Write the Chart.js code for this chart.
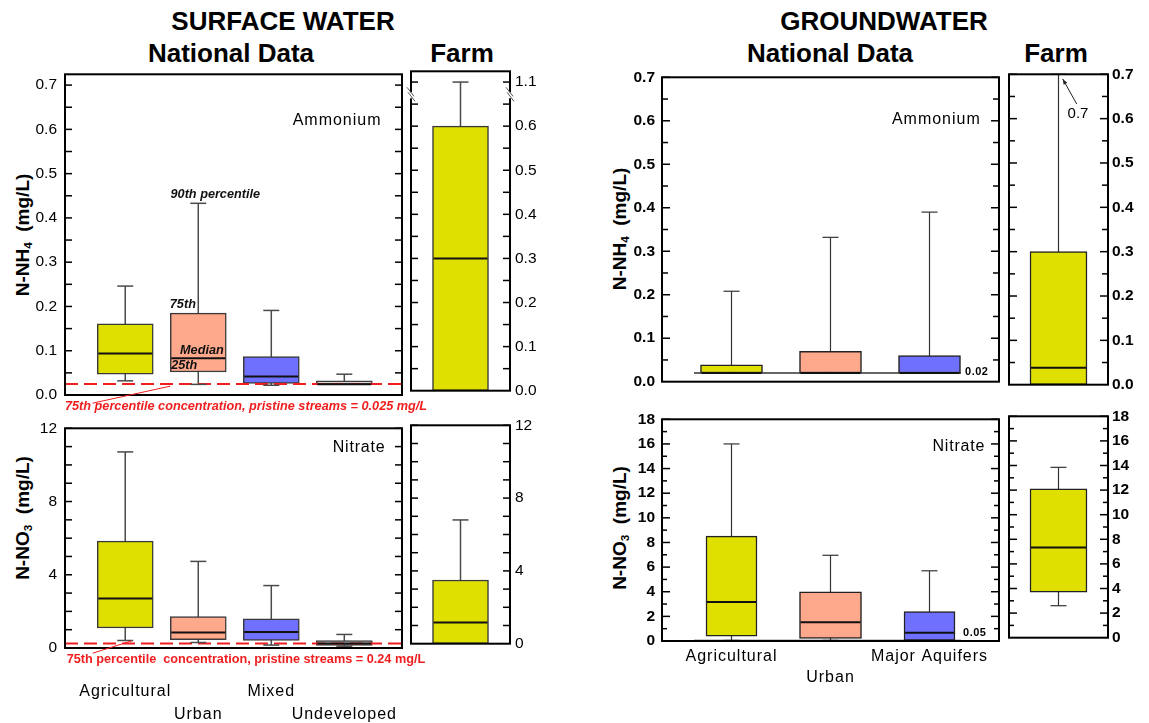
<!DOCTYPE html>
<html>
<head>
<meta charset="utf-8">
<script src="https://cdn.jsdelivr.net/npm/chart.js@4.4.1/dist/chart.umd.min.js"></script>
<style>
  body { margin: 0; background: #fff; font-family: "Liberation Sans", Arial, sans-serif; }
  #page { position: relative; width: 1149px; height: 723px; overflow: hidden; }
  .box { position: absolute; }
  .head { position: absolute; font-weight: bold; font-size: 26px; line-height: 1; white-space: nowrap; transform: translate(-50%, -50%); }
  .ytitle { position: absolute; font-weight: bold; font-size: 19px; line-height: 1; white-space: nowrap; transform: translate(-50%, -50%) rotate(-90deg); }
  .ytitle sub { font-size: 0.62em; vertical-align: -0.3em; line-height: 0; }
</style>
</head>
<body>
<div id="page">
  <div class="head" style="left:283px;top:21px">SURFACE WATER</div>
  <div class="head" style="left:231px;top:53px">National Data</div>
  <div class="head" style="left:462px;top:53px">Farm</div>
  <div class="head" style="left:884px;top:21px">GROUNDWATER</div>
  <div class="head" style="left:830px;top:53px">National Data</div>
  <div class="head" style="left:1056px;top:53px">Farm</div>

  <div class="ytitle" style="left:22px;top:235px">N-NH<sub>4</sub>&nbsp;&nbsp;(mg/L)</div>
  <div class="ytitle" style="left:22px;top:518px">N-NO<sub>3</sub>&nbsp;&nbsp;(mg/L)</div>
  <div class="ytitle" style="left:619px;top:229px">N-NH<sub>4</sub>&nbsp;&nbsp;(mg/L)</div>
  <div class="ytitle" style="left:619px;top:528px">N-NO<sub>3</sub>&nbsp;&nbsp;(mg/L)</div>
</div>
<script>
Chart.defaults.font.family = '"Liberation Sans", Arial, sans-serif';
Chart.defaults.color = '#000';

// land-use categories
const swCategories = ['Agricultural', 'Urban', 'Mixed', 'Undeveloped'];
const gwCategories = ['Agricultural', 'Urban', 'Major Aquifers'];

// box values in mg/L, each row: [10th, 25th, median, 75th, 90th percentile]
const swAmmonium = [
  [0.032, 0.047, 0.094, 0.161, 0.246],
  [0.024, 0.052, 0.083, 0.185, 0.433],
  [0.022, 0.026, 0.042, 0.087, 0.191],
  [0.024, 0.024, 0.024, 0.032, 0.047]
];
const swAmmoniumFarm = [[0, 0, 0.3, 0.6, 1.1]];
const swNitrate = [
  [0.41, 1.09, 2.71, 5.84, 10.71],
  [0.30, 0.46, 0.84, 1.71, 4.73],
  [0.16, 0.41, 0.88, 1.59, 3.41],
  [0.10, 0.14, 0.25, 0.40, 0.74]
];
const swNitrateFarm = [[0, 0, 1.16, 3.5, 6.8]];
const gwAmmonium = [
  [0.02, 0.02, 0.02, 0.039, 0.208],
  [0.02, 0.02, 0.02, 0.070, 0.332],
  [0.02, 0.02, 0.02, 0.060, 0.390]
];
const gwAmmoniumFarm = [[0, 0, 0.038, 0.3, 0.7]];
const gwNitrate = [
  [0.05, 0.40, 3.17, 8.52, 16.0],
  [0.05, 0.20, 1.53, 3.99, 6.96],
  [0.05, 0.05, 0.66, 2.38, 5.70]
];
const gwNitrateFarm = [[2.6, 3.71, 7.34, 12.1, 13.85]];

// 75th percentile in pristine streams, and groundwater reporting limits
const swAmmoniumPristine = 0.025;
const swNitratePristine = 0.24;
const gwAmmoniumLimit = 0.02;
const gwNitrateLimit = 0.05;

// tick values and labels
const ammoniumTicks = [0, 0.1, 0.2, 0.3, 0.4, 0.5, 0.6, 0.7];
const swFarmAmmoniumLabels = ['0.0', '0.1', '0.2', '0.3', '0.4', '0.5', '0.6', '1.1'];
const swNitrateTicks = [0, 4, 8, 12];
const gwNitrateTicks = [0, 2, 4, 6, 8, 10, 12, 14, 16, 18];

const landColors = ['#e0e000', '#ffa98c', '#7070ff', '#d6d6d6'];
const RED = '#f01e1e';

function drawText(ctx, t, px, py) {
  ctx.save();
  ctx.font = t.font;
  ctx.fillStyle = t.color || '#000';
  ctx.textAlign = t.align || 'left';
  ctx.textBaseline = 'middle';
  if ('letterSpacing' in ctx) ctx.letterSpacing = (t.spacing || 0) + 'px';
  ctx.fillText(t.text, px, py);
  ctx.restore();
}

function line(ctx, x1, y1, x2, y2) {
  ctx.beginPath();
  ctx.moveTo(x1, y1);
  ctx.lineTo(x2, y2);
  ctx.stroke();
}

// whiskers, caps, medians, frame, inward ticks and notes
function makeBoxPlot(o) {
  const py = (y, v) => y.getPixelForValue(o.clamp != null ? Math.min(v, o.clamp) : v);
  return {
    id: 'boxPlot',
    beforeDatasetsDraw(chart) {
      const {ctx, scales: {x, y}} = chart;
      ctx.save();
      ctx.strokeStyle = o.whiskerColor;
      ctx.lineWidth = o.whiskerWidth;
      o.stats.forEach((s, i) => {
        const px = x.getPixelForValue(o.xs[i]);
        line(ctx, px, py(y, s[0]), px, py(y, s[4]));
      });
      ctx.restore();
    },
    afterDatasetsDraw(chart) {
      const {ctx, scales: {x, y}} = chart;
      ctx.save();
      o.stats.forEach((s, i) => {
        const px = x.getPixelForValue(o.xs[i]);
        ctx.strokeStyle = o.whiskerColor;
        ctx.lineWidth = o.whiskerWidth;
        if (s[0] < s[1]) line(ctx, px - 8, py(y, s[0]), px + 8, py(y, s[0]));
        if (s[4] > s[3]) line(ctx, px - 8, py(y, s[4]), px + 8, py(y, s[4]));
        const half = o.widths[i] / 2 - 1;
        ctx.strokeStyle = '#111';
        ctx.lineWidth = o.medianWidth;
        line(ctx, px - half, py(y, s[2]), px + half, py(y, s[2]));
      });
      ctx.restore();
    },
    afterDraw(chart) {
      const {ctx, chartArea: {left, right, top, bottom}, scales: {x, y}} = chart;
      ctx.save();
      ctx.strokeStyle = '#000';
      ctx.lineWidth = 1.5;
      const n = Math.round(o.tickTop / o.minorStep);
      for (let k = 1; k <= n; k++) {
        const yy = y.getPixelForValue(k * o.minorStep);
        const len = k % o.majorEvery === 0 ? o.majorLen : o.minorLen;
        line(ctx, left, yy, left + len, yy);
        line(ctx, right - len, yy, right, yy);
      }
      ctx.lineWidth = 2;
      ctx.strokeRect(left, top, right - left, bottom - top);
      if (o.breakAt != null) {
        const yb = y.getPixelForValue(o.breakAt);
        [left, right].forEach(xe => {
          ctx.fillStyle = '#fff';
          ctx.fillRect(xe - 2, yb - 3, 4, 6);
          ctx.strokeStyle = '#555';
          ctx.lineWidth = 1;
          line(ctx, xe - 4, yb - 8, xe + 3, yb + 1);
          line(ctx, xe - 3, yb - 3, xe + 4, yb + 6);
        });
      }
      (o.leaders || []).forEach(l => {
        const x1 = x.getPixelForValue(l.x1), y1 = y.getPixelForValue(l.y1);
        const x2 = x.getPixelForValue(l.x2), y2 = y.getPixelForValue(l.y2);
        ctx.strokeStyle = l.color;
        ctx.fillStyle = l.color;
        ctx.lineWidth = 1;
        line(ctx, x1, y1, x2, y2);
        if (l.arrow) {
          const a = Math.atan2(y2 - y1, x2 - x1);
          ctx.beginPath();
          ctx.moveTo(x2, y2);
          ctx.lineTo(x2 - 6 * Math.cos(a - 0.35), y2 - 6 * Math.sin(a - 0.35));
          ctx.lineTo(x2 - 6 * Math.cos(a + 0.35), y2 - 6 * Math.sin(a + 0.35));
          ctx.closePath();
          ctx.fill();
        }
      });
      ctx.restore();
      (o.notes || []).forEach(t => drawText(ctx, t, x.getPixelForValue(t.x), y.getPixelForValue(t.y)));
      if (o.categories) {
        o.categories.forEach((c, i) => drawText(ctx, {
          text: c, font: '16px "Liberation Sans", Arial, sans-serif', align: 'center', spacing: 1
        }, x.getPixelForValue(o.xs[i]), bottom + o.catRows[i % 2]));
      }
    }
  };
}

function boxPanel(o) {
  const padT = 12;
  const wrap = document.createElement('div');
  wrap.className = 'box';
  Object.assign(wrap.style, {
    left: (o.area.l - o.padL) + 'px',
    top: (o.area.t - padT) + 'px',
    width: (o.area.r - o.area.l + o.padL + o.padR) + 'px',
    height: (o.area.b - o.area.t + padT + o.padB) + 'px'
  });
  const cv = document.createElement('canvas');
  wrap.appendChild(cv);
  document.getElementById('page').appendChild(wrap);

  const onRight = o.axis === 'right';
  const datasets = o.stats.map((s, i) => ({
    type: 'bar',
    data: [{x: o.xs[i], y: [s[1], s[3]]}],
    backgroundColor: o.colors[i],
    borderColor: o.boxBorder,
    borderWidth: 1.5,
    borderSkipped: false,
    barThickness: o.widths[i],
    grouped: false,
    order: 2
  }));
  (o.refLines || []).forEach(r => datasets.push({
    type: 'line',
    data: [{x: r.from, y: r.value}, {x: r.to, y: r.value}],
    borderColor: r.color,
    borderWidth: r.width,
    borderDash: r.dash || [],
    pointRadius: 0,
    order: 1
  }));

  new Chart(cv, {
    type: 'bar',
    data: {datasets},
    options: {
      responsive: true,
      maintainAspectRatio: false,
      animation: false,
      layout: {padding: {top: padT, bottom: o.padB, left: onRight ? o.padL : 0, right: onRight ? 0 : o.padR}},
      scales: {
        x: {type: 'linear', min: o.xMin, max: o.xMax, offset: false, display: false},
        y: {
          position: o.axis,
          min: 0,
          max: o.yMax,
          afterBuildTicks: s => { s.ticks = o.ticks.map(v => ({value: v})); },
          afterFit: s => { s.width = onRight ? o.padR : o.padL; },
          grid: {display: false, drawTicks: false},
          border: {display: false},
          ticks: {
            padding: o.tickPad,
            font: o.tickFont,
            color: '#000',
            callback: (v, i) => o.tickLabels ? o.tickLabels[i] : v.toFixed(o.decimals)
          }
        }
      },
      plugins: {legend: {display: false}, tooltip: {enabled: false}}
    },
    plugins: [makeBoxPlot(o)]
  });
}

const swTickFont = {size: 15.5};
const gwTickFont = {size: 15.5, weight: 'bold'};
const redItalic = 'italic bold 12.7px "Liberation Sans", Arial, sans-serif';
const redBold = 'bold 12.7px "Liberation Sans", Arial, sans-serif';
const noteFont = 'italic bold 12.7px "Liberation Sans", Arial, sans-serif';
const labelFont = '16px "Liberation Sans", Arial, sans-serif';

const swBase = {
  xs: [1, 2, 3, 4], xMin: 0.175, xMax: 4.79, widths: [56, 56, 56, 56], colors: landColors,
  boxBorder: '#3a3a3a', whiskerColor: '#4a4a4a', whiskerWidth: 1.5, medianWidth: 2,
  tickFont: swTickFont, axis: 'left', padL: 65, padR: 30
};
const swFarmBase = {
  xs: [1], xMin: 0, xMax: 2, widths: [56], colors: [landColors[0]],
  boxBorder: '#3a3a3a', whiskerColor: '#4a4a4a', whiskerWidth: 1.5, medianWidth: 2,
  tickFont: swTickFont, axis: 'right', padL: 6, padR: 40, tickPad: 5
};
const gwBase = {
  xs: [1, 2, 3], xMin: 0.298, xMax: 3.702, colors: landColors.slice(0, 3),
  boxBorder: '#222', whiskerColor: '#333', whiskerWidth: 1.2, medianWidth: 2,
  tickFont: gwTickFont, axis: 'left', padL: 62, padR: 10, tickPad: 7
};
const gwFarmBase = {
  xs: [1], xMin: 0, xMax: 2, widths: [57], colors: [landColors[0]],
  boxBorder: '#222', whiskerColor: '#333', whiskerWidth: 1.2, medianWidth: 2,
  tickFont: gwTickFont, axis: 'right', padL: 6, padR: 41, tickPad: 4
};

// surface water, ammonium
boxPanel({
  ...swBase, area: {l: 65, r: 402, t: 69, b: 395}, padB: 22, tickPad: 8,
  stats: swAmmonium, yMax: 0.7244, ticks: ammoniumTicks, decimals: 1,
  minorStep: 0.05, majorEvery: 2, tickTop: 0.7, majorLen: 7, minorLen: 7,
  refLines: [{value: swAmmoniumPristine, from: 0.175, to: 4.79, color: RED, width: 2, dash: [13, 6]}],
  notes: [
    {text: 'Ammonium', x: 4.51, y: 0.62, align: 'right', font: labelFont, spacing: 1},
    {text: '90th percentile', x: 1.62, y: 0.452, font: noteFont, color: '#111'},
    {text: '75th', x: 1.61, y: 0.204, font: noteFont, color: '#111'},
    {text: 'Median', x: 1.75, y: 0.1, font: noteFont, color: '#111'},
    {text: '25th', x: 1.63, y: 0.0667, font: noteFont, color: '#111'},
    {text: '75th percentile concentration, pristine streams = ' + swAmmoniumPristine + ' mg/L',
     x: 0.175, y: -0.0267, font: redItalic, color: RED}
  ],
  leaders: [{x1: 1.617, y1: 0.02, x2: 0.554, y2: -0.0184, color: RED}]
});
boxPanel({
  ...swFarmBase, area: {l: 411, r: 510, t: 69, b: 395}, padB: 10,
  stats: swAmmoniumFarm, yMax: 0.7244, ticks: ammoniumTicks, tickLabels: swFarmAmmoniumLabels,
  minorStep: 0.05, majorEvery: 2, tickTop: 0.7, majorLen: 7, minorLen: 7,
  clamp: 0.7, breakAt: 0.67
});

// surface water, nitrate
boxPanel({
  ...swBase, area: {l: 65, r: 402, t: 423, b: 648}, padB: 75, tickPad: 8,
  stats: swNitrate, yMax: 12, ticks: swNitrateTicks, decimals: 0,
  minorStep: 1, majorEvery: 4, tickTop: 12, majorLen: 7, minorLen: 7,
  refLines: [{value: swNitratePristine, from: 0.175, to: 4.82, color: RED, width: 2, dash: [13, 6]}],
  notes: [
    {text: 'Nitrate', x: 4.563, y: 10.92, align: 'right', font: labelFont, spacing: 0.8},
    {text: '75th percentile  concentration, pristine streams = ' + swNitratePristine + ' mg/L',
     x: 0.198, y: -0.64, font: redBold, color: RED}
  ],
  leaders: [{x1: 1.088, y1: 0.39, x2: 0.554, y2: -0.283, color: RED}],
  categories: swCategories, catRows: [44, 67]
});
boxPanel({
  ...swFarmBase, area: {l: 411, r: 510, t: 423, b: 648}, padB: 10,
  stats: swNitrateFarm, yMax: 12, ticks: swNitrateTicks, decimals: 0,
  minorStep: 1, majorEvery: 4, tickTop: 12, majorLen: 7, minorLen: 7
});

// groundwater, ammonium
boxPanel({
  ...gwBase, area: {l: 662, r: 999, t: 73, b: 388}, padB: 10, widths: [62, 62, 62],
  stats: gwAmmonium, yMax: 0.7, ticks: ammoniumTicks, decimals: 1,
  minorStep: 0.05, majorEvery: 2, tickTop: 0.7, majorLen: 8, minorLen: 6,
  refLines: [{value: gwAmmoniumLimit, from: 0.621, to: 3.318, color: '#333', width: 1.5}],
  notes: [
    {text: 'Ammonium', x: 3.518, y: 0.603, align: 'right', font: labelFont, spacing: 1},
    {text: String(gwAmmoniumLimit), x: 3.359, y: 0.0229, font: 'bold 11px "Liberation Sans", Arial, sans-serif', spacing: 0.5}
  ]
});
boxPanel({
  ...gwFarmBase, area: {l: 1009, r: 1108, t: 73, b: 388}, padB: 10,
  stats: gwAmmoniumFarm, yMax: 0.7, ticks: ammoniumTicks, decimals: 1,
  minorStep: 0.05, majorEvery: 2, tickTop: 0.7, majorLen: 8, minorLen: 6,
  notes: [{text: String(gwAmmoniumFarm[0][4]), x: 1.394, y: 0.61, align: 'center', font: '15px "Liberation Sans", Arial, sans-serif'}],
  leaders: [{x1: 1.368, y1: 0.633, x2: 1.085, y2: 0.6896, color: '#222', arrow: true}]
});

// groundwater, nitrate
boxPanel({
  ...gwBase, area: {l: 662, r: 999, t: 415, b: 641}, padB: 50, widths: [51, 62, 51],
  stats: gwNitrate, yMax: 18, ticks: gwNitrateTicks, decimals: 0,
  minorStep: 1, majorEvery: 2, tickTop: 18, majorLen: 8, minorLen: 5,
  refLines: [{value: gwNitrateLimit, from: 0.621, to: 3.318, color: '#333', width: 1.5}],
  notes: [
    {text: 'Nitrate', x: 3.563, y: 15.79, align: 'right', font: labelFont, spacing: 0.8},
    {text: String(gwNitrateLimit), x: 3.339, y: 0.66, font: 'bold 11px "Liberation Sans", Arial, sans-serif', spacing: 0.5}
  ],
  categories: gwCategories, catRows: [16, 37]
});
boxPanel({
  ...gwFarmBase, area: {l: 1009, r: 1108, t: 415, b: 641}, padB: 10,
  stats: gwNitrateFarm, yMax: 18, ticks: gwNitrateTicks, decimals: 0,
  minorStep: 1, majorEvery: 2, tickTop: 18, majorLen: 8, minorLen: 5
});
</script>
</body>
</html>
